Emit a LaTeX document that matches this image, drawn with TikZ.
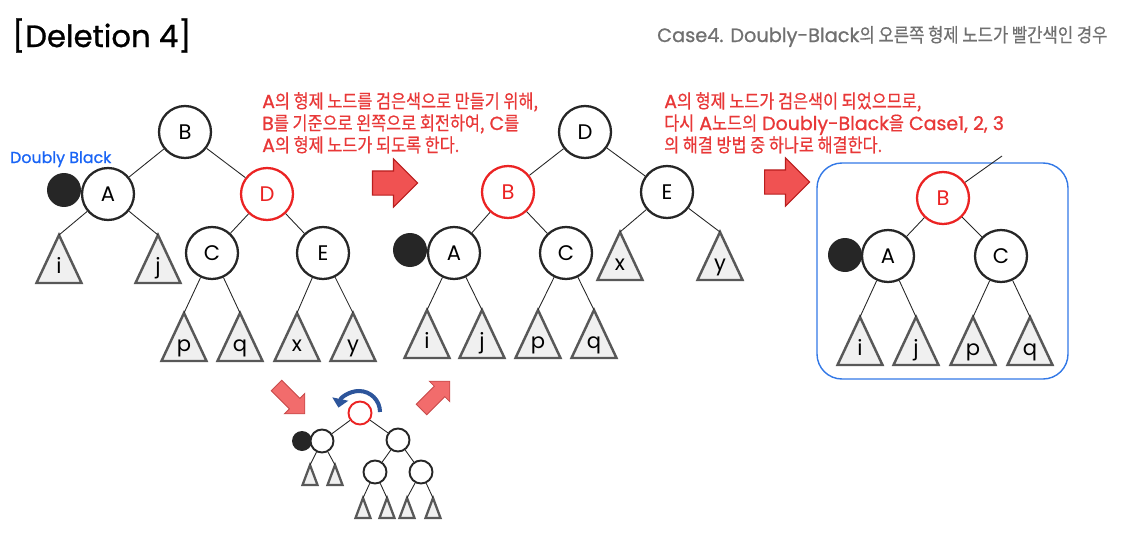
\documentclass[tikz,border=0pt]{standalone}
\usepackage{fontspec}
\setmainfont{Poppins}
\newfontfamily\kr[FakeStretch=0.86,FakeBold=0.5]{Noto Sans CJK KR}
\newfontfamily\medfont[FakeBold=0.9]{Poppins}
\newcommand{\K}[1]{{\kr #1}}
\usepackage{tikz}
\usetikzlibrary{arrows.meta,shapes.arrows}
\definecolor{rbred}{RGB}{235,35,35}
\definecolor{notered}{RGB}{232,56,56}
\definecolor{subgray}{RGB}{112,112,112}
\definecolor{dbblue}{RGB}{25,100,245}
\definecolor{boxblue}{RGB}{50,120,230}
\definecolor{arrfill}{RGB}{240,82,82}
\definecolor{arrdraw}{RGB}{185,30,30}
\definecolor{rotblue}{RGB}{45,85,155}
\definecolor{trigray}{RGB}{88,88,88}
\definecolor{trifill}{RGB}{240,240,240}

\begin{document}
\begin{tikzpicture}[x=0.02cm,y=-0.02cm,every node/.style={font=\fontsize{12}{12}\selectfont},
nd/.style={circle,draw=black!85,line width=1.3pt,fill=white,minimum size=1.04cm,inner sep=0pt},
rnd/.style={nd,draw=rbred,text=rbred},
dbl/.style={circle,fill=black!85,minimum size=0.68cm,inner sep=0pt},
snd/.style={circle,draw=black!85,line width=1.1pt,fill=white,minimum size=0.46cm,inner sep=0pt},
srnd/.style={snd,draw=rbred},
sdbl/.style={circle,fill=black!85,minimum size=0.4cm,inner sep=0pt},
edge/.style={black!85,line width=0.5pt},
bigarr/.style={single arrow,fill=arrfill,draw=arrdraw,line width=0.6pt,minimum height=0.9cm,text height=0.46cm,text depth=0pt,single arrow head extend=0.24cm,inner sep=0pt},
smarr/.style={single arrow,fill=arrfill!85,draw=arrdraw!80,line width=0.5pt,minimum height=0.8cm,text height=0.28cm,text depth=0pt,single arrow head extend=0.14cm,inner sep=0pt},
note/.style={anchor=north west,align=left,text=notered,font=\medfont\fontsize{10.8}{12.5}\selectfont},
tri/.pic={\draw[fill=trifill,draw=trigray,line width=1.4pt] (0,0)--(-22.5,48)--(22.5,48)--cycle;
  \node[anchor=base] (-t) at (0,38) {#1}; \coordinate (-top) at (0,0);},
stri/.pic={\draw[fill=trifill,draw=trigray,line width=1.3pt] (0,0)--(-7.5,20)--(7.5,20)--cycle;
  \coordinate (-top) at (0,0);}]
\useasboundingbox (0,0) rectangle (1135,534);

% titles
\node[anchor=base west,font=\medfont\fontsize{17.5}{17.5}\selectfont] (ttl) at (6,47) {[Deletion 4]};
\node[anchor=base west,text=subgray,font=\medfont\fontsize{11}{11}\selectfont] (sub) at (651,42) {Case4. Doubly-Black\K{의 오른쪽 형제 노드가 빨간색인 경우}};
\node[anchor=base west,text=dbblue,font=\medfont\fontsize{9}{9}\selectfont] (dblab) at (4,163) {Doubly Black};
\node[note] (n1) at (256,86) {A\K{의 형제 노드를 검은색으로 만들기 위해,}\\B\K{를 기준으로 왼쪽으로 회전하여,} C\K{를}\\A\K{의 형제 노드가 되도록 한다.}};
\node[note] (n2) at (658,86) {A\K{의 형제 노드가 검은색이 되었으므로,}\\\K{다시} A\K{노드의} Doubly-Black\K{을} Case1, 2, 3\\\K{의 해결 방법 중 하나로 해결한다.}};

% tree before rotation
\node[dbl] (d1) at (64,190) {};
\node[nd] (B1) at (185,132) {B};
\node[nd] (A1) at (108,194) {A};
\node[rnd] (D1) at (267,194) {D};
\node[nd] (C1) at (212,253) {C};
\node[nd] (E1) at (323,253) {E};
\pic (i1) at (59,235) {tri=i}; \pic (j1) at (158,235) {tri=j};
\pic (p1) at (184,313) {tri=p}; \pic (q1) at (240,313) {tri=q};
\pic (x1) at (297,313) {tri=x}; \pic (y1) at (353,313) {tri=y};
\draw[edge] (B1)--(A1); \draw[edge] (B1)--(D1); \draw[edge] (D1)--(C1); \draw[edge] (D1)--(E1);
\draw[edge] (A1)--(i1-top); \draw[edge] (A1)--(j1-top); \draw[edge] (C1)--(p1-top);
\draw[edge] (C1)--(q1-top); \draw[edge] (E1)--(x1-top); \draw[edge] (E1)--(y1-top);

% tree after rotation
\node[dbl] (d2) at (410,250) {};
\node[nd] (D2) at (585,132) {D};
\node[rnd] (B2) at (508,192) {B};
\node[nd] (E2) at (667,192) {E};
\node[nd] (A2) at (454,253) {A};
\node[nd] (C2) at (566,253) {C};
\pic (x2) at (620,232) {tri=x}; \pic (y2) at (720,232) {tri=y};
\pic (i2) at (427,310) {tri=i}; \pic (j2) at (482,310) {tri=j};
\pic (p2) at (538,310) {tri=p}; \pic (q2) at (594,310) {tri=q};
\draw[edge] (D2)--(B2); \draw[edge] (D2)--(E2); \draw[edge] (B2)--(A2); \draw[edge] (B2)--(C2);
\draw[edge] (E2)--(x2-top); \draw[edge] (E2)--(y2-top); \draw[edge] (A2)--(i2-top);
\draw[edge] (A2)--(j2-top); \draw[edge] (C2)--(p2-top); \draw[edge] (C2)--(q2-top);

% subtree handed on to case 1-3
\draw[boxblue,line width=0.8pt,rounded corners=0.5cm] (817,163) rectangle (1068,379);
\coordinate (up) at (1002,156);
\node[dbl] (d3) at (845,255) {};
\node[rnd] (B3) at (943,198) {B};
\node[nd] (A3) at (888,256) {A};
\node[nd] (C3) at (1001,256) {C};
\pic (i3) at (860,317) {tri=i}; \pic (j3) at (916,317) {tri=j};
\pic (p3) at (973,317) {tri=p}; \pic (q3) at (1030,317) {tri=q};
\draw[edge] (B3)--(up); \draw[edge] (B3)--(A3); \draw[edge] (B3)--(C3);
\draw[edge] (A3)--(i3-top); \draw[edge] (A3)--(j3-top); \draw[edge] (C3)--(p3-top); \draw[edge] (C3)--(q3-top);

% small rotation sketch
\node[sdbl] (d0) at (302,441) {};
\node[srnd] (r0) at (360,413) {};
\node[snd] (l0) at (322,441) {};
\node[snd] (rr0) at (398,440) {};
\node[snd] (c0) at (375,472) {};
\node[snd] (e0) at (421,472) {};
\pic (s1) at (310,465) {stri}; \pic (s2) at (335,465) {stri};
\pic (s3) at (363,498) {stri}; \pic (s4) at (387,498) {stri};
\pic (s5) at (407,498) {stri}; \pic (s6) at (433,498) {stri};
\draw[edge] (r0)--(l0); \draw[edge] (r0)--(rr0); \draw[edge] (rr0)--(c0); \draw[edge] (rr0)--(e0);
\draw[edge] (l0)--(s1-top); \draw[edge] (l0)--(s2-top); \draw[edge] (c0)--(s3-top);
\draw[edge] (c0)--(s4-top); \draw[edge] (e0)--(s5-top); \draw[edge] (e0)--(s6-top);
\draw[rotblue,line width=2.3pt,-{Triangle[width=9pt,length=5pt]}] (380,412) arc[start angle=0,end angle=-168,radius=21];

% arrows
\node[bigarr] (ar1) at (389,183) {};
\node[bigarr] (ar2) at (781,182) {};
\node[smarr,rotate=-45] (ar3) at (288,397) {};
\node[smarr,rotate=45] (ar4) at (433,398) {};
\end{tikzpicture}
\end{document}
